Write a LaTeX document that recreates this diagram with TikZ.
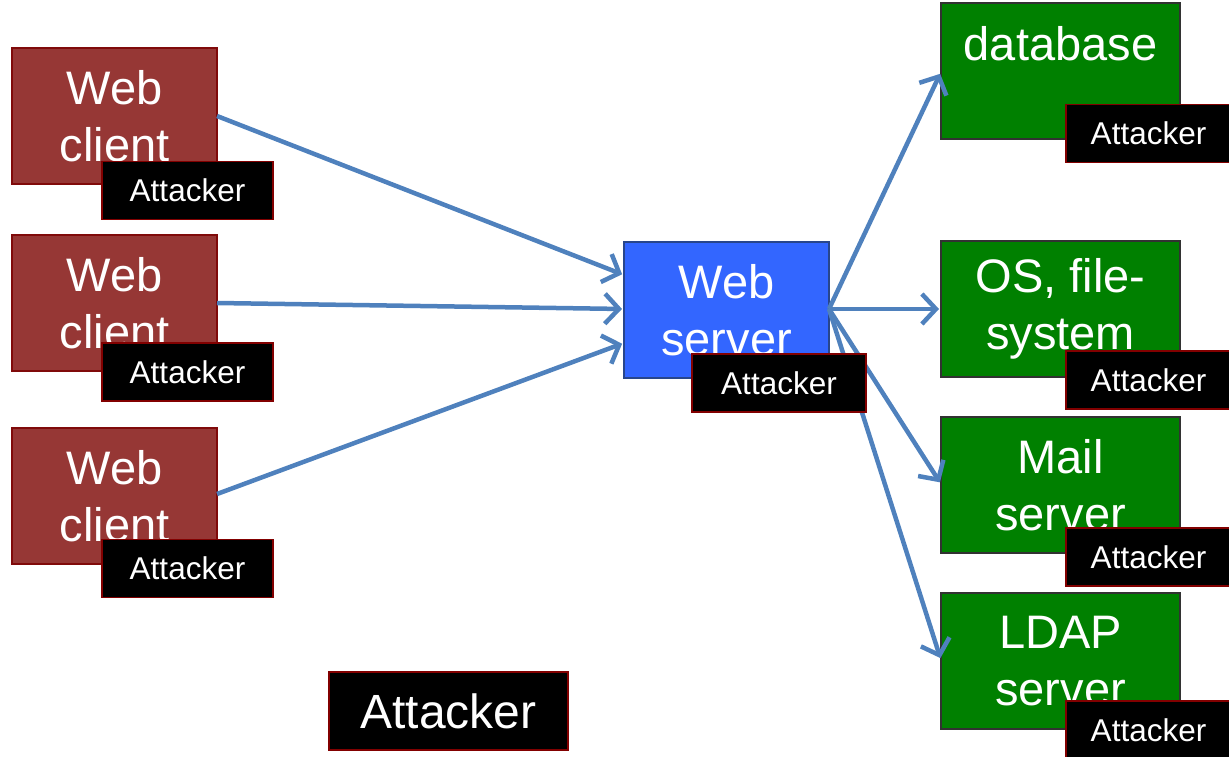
\documentclass[tikz,border=0pt]{standalone}
\usepackage{fontspec}
\setmainfont{Liberation Sans}
\usetikzlibrary{arrows.meta}
\definecolor{clientred}{RGB}{150,55,53}
\definecolor{clientedge}{RGB}{128,10,10}
\definecolor{serverblue}{RGB}{51,102,255}
\definecolor{serveredge}{RGB}{40,70,140}
\definecolor{resgreen}{RGB}{0,128,0}
\definecolor{resedge}{RGB}{50,50,50}
\definecolor{attedge}{RGB}{130,0,0}
\definecolor{arrowblue}{RGB}{79,129,189}
\tikzset{
  bigtext/.style={text=white, font=\fontsize{47}{57}\selectfont, align=center},
  clientbox/.style={bigtext, draw=clientedge, fill=clientred, line width=1.5pt, minimum width=205pt, minimum height=136pt, inner sep=0pt},
  serverbox/.style={bigtext, draw=serveredge, fill=serverblue, line width=1.5pt, minimum width=205pt, minimum height=136pt, inner sep=0pt},
  resbox/.style={bigtext, draw=resedge, fill=resgreen, line width=1.5pt, minimum width=239pt, minimum height=136pt, inner sep=0pt},
  attbox/.style={draw=attedge, fill=black, text=white, line width=1.5pt, font=\fontsize{31.5}{36}\selectfont, minimum height=58pt, inner sep=0pt},
  bigatt/.style={draw=attedge, fill=black, text=white, line width=1.5pt, font=\fontsize{48}{56}\selectfont, minimum width=239pt, minimum height=78pt, inner sep=0pt},
  conn/.style={draw=arrowblue, line width=4.5pt, -{Straight Barb[length=14pt,width=30pt,line width=4.5pt]}, shorten >=2pt}
}
\begin{document}
\begin{tikzpicture}[x=1pt,y=-1pt]
\useasboundingbox (0,0) rectangle (1229,757);
% connector end points
\coordinate (wsin1) at (624,275);
\coordinate (wsin2) at (624,309);
\coordinate (wsin3) at (624,343);
\coordinate (wsout) at (829,309);
\coordinate (dbin) at (941,72);
\coordinate (osin) at (941,309);
\coordinate (mailin) at (941,484);
\coordinate (ldapin) at (941,660);
\coordinate (c1out) at (217,116);
\coordinate (c2out) at (217,303);
\coordinate (c3out) at (217,494);
% clients
\node[clientbox] (c1) at (114.5,116) {Web\\client};
\node[clientbox] (c2) at (114.5,303) {Web\\client};
\node[clientbox] (c3) at (114.5,496) {Web\\client};
% server
\node[serverbox] (ws) at (726.5,310) {Web\\server};
% resources
\node[resbox] (db) at (1060.5,71) {};
\node[bigtext, anchor=north] (dbt) at (1060.5,23) {database};
\node[resbox] (os) at (1060.5,309) {OS, file-\\system};
\node[resbox] (mail) at (1060.5,485) {Mail\\server};
\node[resbox] (ldap) at (1060.5,661) {LDAP\\server};
% arrows
\draw[conn] (c1out) -- (wsin1);
\draw[conn] (c2out) -- (wsin2);
\draw[conn] (c3out) -- (wsin3);
\draw[conn] (wsout) -- (dbin);
\draw[conn] (wsout) -- (osin);
\draw[conn] (wsout) -- (mailin);
\draw[conn] (wsout) -- (ldapin);
% attacker labels
\node[attbox, minimum width=171pt] (a1) at (187.5,190.5) {Attacker};
\node[attbox, minimum width=171pt] (a2) at (187.5,372) {Attacker};
\node[attbox, minimum width=171pt] (a3) at (187.5,568.5) {Attacker};
\node[attbox, minimum width=174pt] (aws) at (779,383) {Attacker};
\node[attbox, minimum width=165pt] (adb) at (1148.5,133.5) {Attacker};
\node[attbox, minimum width=165pt] (aos) at (1148.5,380) {Attacker};
\node[attbox, minimum width=165pt] (amail) at (1148.5,557) {Attacker};
\node[attbox, minimum width=165pt] (aldap) at (1148.5,730) {Attacker};
\node[bigatt] (abig) at (448.5,711) {Attacker};
\end{tikzpicture}
\end{document}
